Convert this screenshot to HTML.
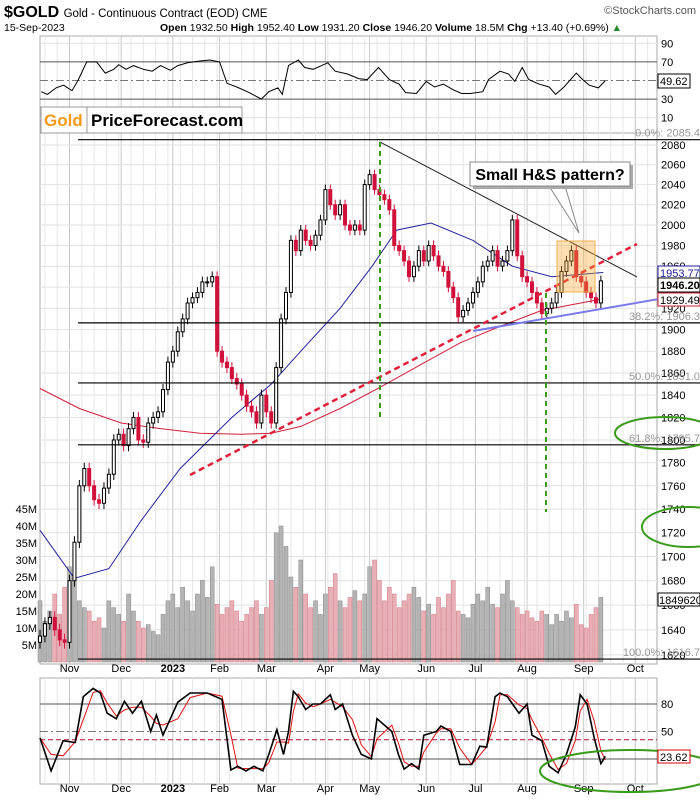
<!DOCTYPE html>
<html><head><meta charset="utf-8"><style>
body{margin:0;background:#fff;}
svg{display:block;font-family:"Liberation Sans",sans-serif;}
</style></head><body>
<svg id="c" width="700" height="800" viewBox="0 0 700 800">
<rect x="0" y="0" width="700" height="800" fill="#fff"/>
<text x="4" y="17" font-size="16" font-weight="bold">$GOLD <tspan font-size="11.5" font-weight="normal">Gold - Continuous Contract (EOD) CME</tspan></text>
<text x="4" y="31" font-size="10.5">15-Sep-2023</text>
<text x="160" y="31" font-size="10.5"><tspan font-weight="bold">Open</tspan> 1932.50 <tspan font-weight="bold">High</tspan> 1952.40 <tspan font-weight="bold">Low</tspan> 1931.20 <tspan font-weight="bold">Close</tspan> 1946.20 <tspan font-weight="bold">Volume</tspan> 18.5M <tspan font-weight="bold">Chg</tspan> +13.40 (+0.69%) <tspan fill="#2a8a2a">▲</tspan></text>
<text x="696" y="14" font-size="11" fill="#555" text-anchor="end">©StockCharts.com</text>
<g id="grid"></g>
<g id="marks"></g>
<g id="ann"></g>
</svg>
<script>
// ---------- data ----------
const closes=[1635,1645,1650,1640,1632,1630,1680,1712,1760,1775,1760,1748,1745,1758,1770,
1800,1805,1795,1810,1820,1800,1798,1815,1820,1825,
1845,1870,1880,1898,1910,1925,1930,1935,1945,1945,
1950,1880,1870,1865,1855,1850,1840,1830,1825,1815,
1840,1825,1815,1865,1910,1935,1985,1975,1995,
1985,1980,1990,2005,2035,2020,2010,2020,2000,1995,
2000,1995,2040,2050,2035,
2030,2025,2015,1980,1975,1965,1950,1960,1975,
1965,1980,1970,1960,1955,1940,1930,1912,1918,1925,
1935,1945,1960,1965,1975,1960,1965,1975,2005,
1970,1950,1945,1935,1925,1915,1920,1925,1935,
1955,1965,1975,1950,1945,1935,1930,1925,1946];
const volumes=[18,12,15,20,14,22,28,25,18,16,15,12,13,10,18,
16,14,12,20,15,12,10,11,9,8,
14,18,20,16,22,18,15,20,24,19,
28,17,14,16,18,15,12,14,16,18,
14,16,24,38,40,34,25,22,30,
20,16,18,14,20,22,26,18,16,19,
21,18,20,28,30,
24,18,22,20,16,18,20,22,19,
15,17,14,19,16,20,24,15,14,13,
17,20,18,22,17,16,20,24,18,
16,14,15,13,12,15,14,11,14,
12,15,13,17,11,10,14,16,19];
const ma50Day=[0,14,28,41,57,78,94,106,122,135,145,159,176,192,208,229];
const ma50Val=[1722,1682,1690,1730,1775,1820,1850,1880,1920,1960,1995,2002,1985,1960,1950,1954];
const ma200Day=[0,16,33,49,65,82,94,106,122,139,155,171,188,204,229];
const ma200Val=[1846,1828,1815,1810,1806,1805,1806,1812,1828,1848,1868,1888,1904,1918,1929];
const rsiDay=[0.5,3,6.5,9.6,13,15.6,19,23,26.5,30,32,35,38,42,45.6,49,53,56,60,65,69,73,76,80,85,90,93,96.7,98.5,101,105,107.6,111,117,120,125,129.5,133,137.6,142,146,148.6,153,157,160.4,164,168,171.4,175,180,182.3,187,190.5,193,196,198.7,203,207,209.6,213,218,220.6,223.3,227,229.7];
const rsiVal=[38,35,42,45,39,51,70,70,58,62,67,62,66,62,60,66,61,66,69,71,72,70,47,43,37,30,38,42,35,66,72,64,62,69,60,57,52,51,64,51,46,37,36,49,43,46,40,36,36,38,51,60,57,49,64,51,46,43,35,43,58,51,45,42,49.6];
const stochDay=[0,4.5,9.4,14.3,17.6,21.6,24.5,27.3,31,34.3,37.6,41.2,45,47.3,50,56,61,68,74,77.6,80.4,83.7,87,90.6,93,96.3,99,101,103,105,108,111,114,118,120,123,127,130.6,134.7,137,143,145.7,148,151,154,156,161,163,167,170.6,175.5,178.8,181.6,185,187,190,194.7,198,200,204,207,210.6,214,217.6,219.6,222.4,225.3,228,229.8];
const stochVal=[43,7,40,38,88,97,92,70,64,83,70,83,50,68,46,82,92,92,85,8,12,7,12,7,25,52,25,50,94,88,74,80,80,90,74,80,46,25,20,64,50,25,9,15,9,46,50,56,50,14,14,34,33,88,92,88,70,80,46,40,12,5,25,55,90,80,43,15,23];
const priceTicks=[2080,2060,2040,2020,2000,1980,1960,1940,1920,1900,1880,1860,1840,1820,1800,1780,1760,1740,1720,1700,1680,1660,1640,1620];
const volTicks=[5,10,15,20,25,30,35,40,45];
const monthLabels=["Nov","Dec","2023","Feb","Mar","Apr","May","Jun","Jul","Aug","Sep","Oct"];
const monthDays=[12,33,54,73,92,116,134,157,177,198,221,242];
const fibPct=["0.0%","38.2%","50.0%","61.8%","100.0%"];
const fibVal=[2085.4,1906.3,1851.0,1795.7,1616.7];

// ---------- scales ----------
const L=40,R=657,DX=2.46,STEP=2;
const xd=d=>L+d*DX;
const yp=p=>145+2040*Math.log(2080/p);
const yv=v=>662-v*3.4;
const yr=v=>127-v*0.93;
const ys=v=>704+(80-v)*0.9167;
const NS="http://www.w3.org/2000/svg";
function mk(tag,parent,attrs){const e=document.createElementNS(NS,tag);for(const k in attrs)e.setAttribute(k,attrs[k]);parent.appendChild(e);return e;}
const G=document.getElementById('grid'),M=document.getElementById('marks'),A=document.getElementById('ann');

[[L,36,R-L,97],[L,133,R-L,531],[L,678,R-L,106]].forEach((p,i)=>{
  const r=mk('rect',G,{x:p[0],y:p[1],width:p[2],height:p[3],fill:'#fff',stroke:'#aaa','stroke-width':1});
  
  
});
for(let d=2;d<250;d+=5){const x=xd(d);if(x>R)break;
  [[36,133],[133,664],[678,784]].forEach(s=>mk('line',G,{x1:x,x2:x,y1:s[0],y2:s[1],stroke:'#e6e6e6'}));}
monthDays.forEach((d,i)=>{const x=xd(d);
  [[36,133],[133,664],[678,784]].forEach(s=>mk('line',G,{x1:x,x2:x,y1:s[0],y2:s[1],stroke:'#c8c8c8'}));
  [672,792].forEach(yy=>{const t=mk('text',G,{x:x,y:yy,'font-size':11,'text-anchor':'middle','font-weight':monthLabels[i]==='2023'?'bold':'normal'});t.textContent=monthLabels[i];
  
  });
});
priceTicks.forEach(p=>{const y=yp(p);mk('line',G,{x1:L,x2:R,y1:y,y2:y,stroke:'#e2e2e2'});
  const t=mk('text',G,{x:661,y:y+4,'font-size':11});t.textContent=p;
  
  });
volTicks.forEach(v=>{const y=yv(v);const t=mk('text',G,{x:37,y:y+4,'font-size':11,'text-anchor':'end'});t.textContent=v+'M';
  
  });
[90,70,50,30,10].forEach(v=>{const y=yr(v);
  mk('line',G,{x1:L,x2:R,y1:y,y2:y,stroke:(v==70||v==30)?'#555':(v==50?'#777':'#e2e2e2'),'stroke-dasharray':v==50?'8,3,2,3':'none'});
  const t=mk('text',G,{x:661,y:y+4,'font-size':11});t.textContent=v;
  
  });
[80,50,20].forEach(v=>{const y=ys(v);
  mk('line',G,{x1:L,x2:R,y1:y,y2:y,stroke:v==50?'#777':'#555','stroke-dasharray':v==50?'8,3,2,3':'none'});
  if(v!=20){const t=mk('text',G,{x:661,y:y+4,'font-size':11});t.textContent=v;
  
  }});
mk('line',G,{x1:L,x2:R,y1:ys(41),y2:ys(41),stroke:'#b0103a','stroke-dasharray':'5,3'});

volumes.forEach((v,i)=>{if(i>=closes.length)return;const x=xd(i*STEP);const prev=i?closes[i-1]:closes[0];
  const r=mk('rect',M,{x:x-2,y:yv(v),width:4,height:662-yv(v),fill:closes[i]<prev?'#e8b0b6':'#b4b4b4',stroke:closes[i]<prev?'#d07a84':'#888','stroke-width':0.5});
  
  });
function poly(days,vals,yf,attrs,name){const pts=days.map((d,i)=>xd(d).toFixed(1)+','+yf(vals[i]).toFixed(1)).join(' ');
  const p=mk('polyline',M,Object.assign({points:pts,fill:'none'},attrs));
  
  return p;}
poly(ma200Day,ma200Val,yp,{stroke:'#d0203a','stroke-width':1},'ma-200-line');
poly(ma50Day,ma50Val,yp,{stroke:'#22229a','stroke-width':1},'ma-50-line');
closes.forEach((c,i)=>{const o=i?closes[i-1]:c-5;const x=xd(i*STEP);const hi=Math.max(o,c)+5,lo=Math.min(o,c)-5;
  const col=c<o?'#d0103a':'#000';
  const l=mk('line',M,{x1:x,x2:x,y1:yp(hi),y2:yp(lo),stroke:col,'stroke-width':1});
  
  
  const top=yp(Math.max(o,c)),bot=yp(Math.min(o,c));
  const b=mk('rect',M,{x:x-1.5,y:top,width:3,height:Math.max(1,bot-top),fill:c<o?col:'#fff',stroke:col,'stroke-width':1});
  
  });
poly(rsiDay,rsiVal,yr,{stroke:'#000','stroke-width':1},'rsi-line');
const sig=stochVal.map((v,i)=>{const a=stochVal.slice(Math.max(0,i-1),i+1);return a.reduce((s,q)=>s+q,0)/a.length;});
poly(stochDay,sig,ys,{stroke:'#e01010','stroke-width':1},'stoch-signal-line');
poly(stochDay,stochVal,ys,{stroke:'#000','stroke-width':1.6},'stoch-k-line');

fibVal.forEach((f,i)=>{const y=yp(f);mk('line',A,{x1:78,x2:700,y1:y,y2:y,stroke:'#000','stroke-width':1.2});
  const t=mk('text',A,{x:700,y:y-3,'font-size':11,fill:'#999','text-anchor':'end'});t.textContent=fibPct[i]+': '+f.toFixed(1);
  
  });
</script>
<div style="position:absolute;left:0;top:0;width:700px;height:800px;pointer-events:none">
<svg width="700" height="800" style="position:absolute;left:0;top:0">
<line x1="380" y1="142" x2="637" y2="277" stroke="#222" stroke-width="1"/>
<line x1="190" y1="475" x2="637" y2="244" stroke="#e0203a" stroke-width="2.5" stroke-dasharray="6,4"/>
<line x1="473" y1="331" x2="700" y2="292" stroke="#7a7ae8" stroke-width="2"/>
<line x1="380" y1="142" x2="380" y2="420" stroke="#3a9a1a" stroke-width="2" stroke-dasharray="5,4"/>
<line x1="546" y1="293" x2="546" y2="512" stroke="#3a9a1a" stroke-width="2" stroke-dasharray="5,4"/>
<rect x="557" y="241" width="38" height="51" fill="rgba(255,165,40,0.35)" stroke="#f0b050"/>
<polygon points="549,186 565,186 579,233" fill="#fff" stroke="#888"/>
<rect x="473" y="165" width="160" height="24" fill="#aaa"/>
<rect x="470" y="162" width="160" height="24" fill="#fff" stroke="#888"/>
<text x="550" y="180" font-size="16" font-weight="bold" text-anchor="middle">Small H&amp;S pattern?</text>
<ellipse cx="665" cy="433" rx="50" ry="16" fill="none" stroke="#3a9a1a" stroke-width="2"/>
<ellipse cx="688" cy="527" rx="46" ry="20" fill="none" stroke="#3a9a1a" stroke-width="2"/>
<ellipse cx="630" cy="771" rx="90" ry="21" fill="none" stroke="#3a9a1a" stroke-width="2"/>
<rect x="41" y="107" width="201" height="26" fill="#fff" stroke="#999"/>
<line x1="87" y1="107" x2="87" y2="133" stroke="#999"/>
<text x="44" y="126" font-size="17" font-weight="bold" fill="#f39a1a">Gold</text>
<text x="91" y="126" font-size="17" font-weight="bold" fill="#000">PriceForecast.com</text>
<g font-size="11">
<rect x="658" y="74" width="32" height="14" fill="#fff" stroke="#000"/><text x="660" y="85">49.62</text>
<rect x="658" y="266" width="42" height="13" fill="#fff" stroke="#22229a"/><text x="660" y="277" fill="#22229a">1953.77</text>
<rect x="658" y="278" width="42" height="14" fill="#fff" stroke="#000"/><text x="660" y="289" font-weight="bold">1946.20</text>
<rect x="658" y="293" width="42" height="13" fill="#fff" stroke="#d0203a"/><text x="660" y="304">1929.49</text>
<rect x="658" y="593" width="42" height="13" fill="#fff" stroke="#000"/><text x="659" y="604">18496200</text>
<rect x="658" y="750" width="32" height="13" fill="#fff" stroke="#d00"/><text x="660" y="761">23.62</text>
</g>
</svg></div>
</body></html>
